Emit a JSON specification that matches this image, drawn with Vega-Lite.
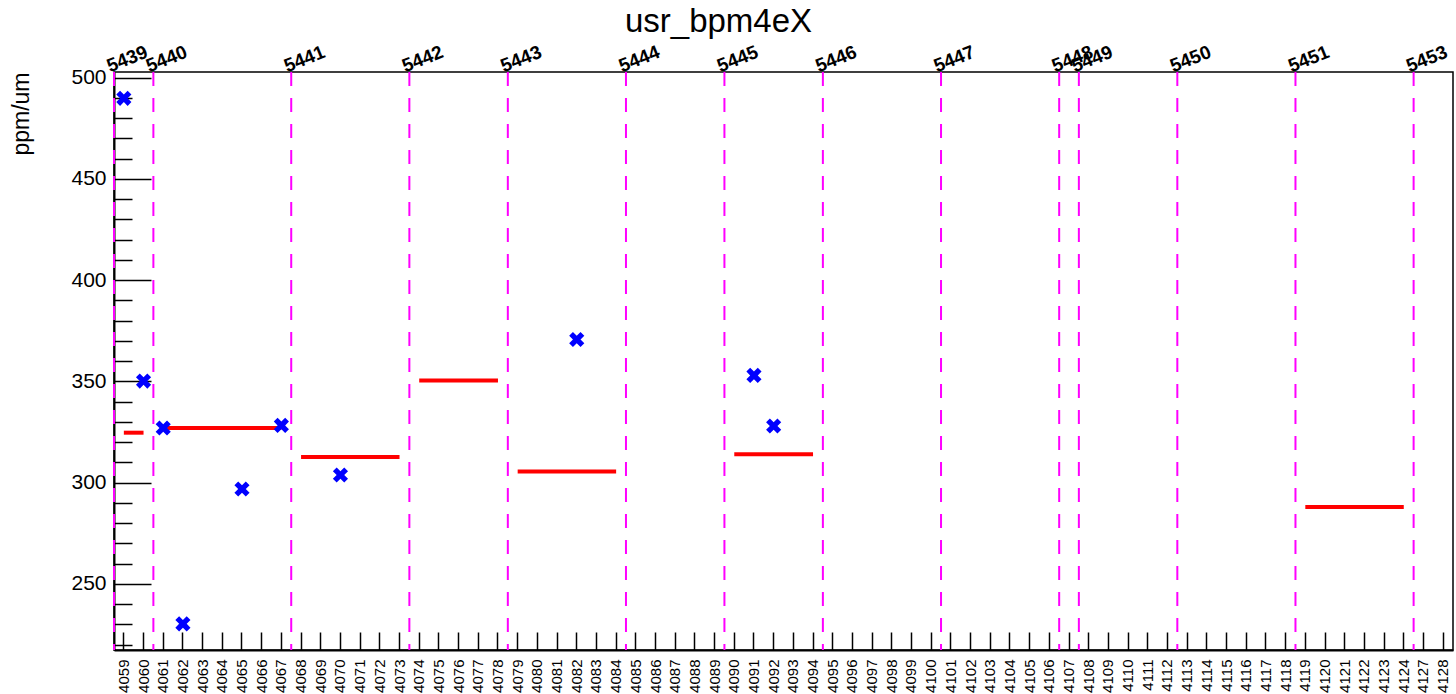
{
  "$schema": "https://vega.github.io/schema/vega-lite/v6.json",
  "autosize": {"type": "none"},
  "padding": {"left": 114, "top": 72, "right": 3, "bottom": 44},
  "width": 1339,
  "height": 578,
  "background": "white",
  "title": {
    "text": "usr_bpm4eX",
    "fontSize": 33,
    "fontWeight": "normal",
    "font": "Liberation Sans",
    "color": "black",
    "anchor": "middle",
    "dx": -65
  },
  "datasets": {
    "points": [
      {"cat": 4059, "value": 489.8},
      {"cat": 4060, "value": 350.2},
      {"cat": 4061, "value": 327.0},
      {"cat": 4062, "value": 230.3},
      {"cat": 4065, "value": 296.9},
      {"cat": 4067, "value": 328.3},
      {"cat": 4070, "value": 303.8},
      {"cat": 4082, "value": 370.7},
      {"cat": 4091, "value": 353.0},
      {"cat": 4092, "value": 328.0}
    ],
    "runs": [
      {"run": "5439", "first": 4059, "start": 4059, "end": 4060, "mean": 324.7},
      {"run": "5440", "first": 4061, "start": 4061, "end": 4067, "mean": 327.0},
      {"run": "5441", "first": 4068, "start": 4068, "end": 4073, "mean": 312.7},
      {"run": "5442", "first": 4074, "start": 4074, "end": 4078, "mean": 350.5},
      {"run": "5443", "first": 4079, "start": 4079, "end": 4084, "mean": 305.5},
      {"run": "5444", "first": 4085, "start": 4085, "end": 4089, "mean": null},
      {"run": "5445", "first": 4090, "start": 4090, "end": 4094, "mean": 314.0},
      {"run": "5446", "first": 4095, "start": 4095, "end": 4100, "mean": null},
      {"run": "5447", "first": 4101, "start": 4101, "end": 4106, "mean": null},
      {"run": "5448", "first": 4107, "start": 4107, "end": 4107, "mean": null},
      {"run": "5449", "first": 4108, "start": 4108, "end": 4112, "mean": null},
      {"run": "5450", "first": 4113, "start": 4113, "end": 4118, "mean": null},
      {"run": "5451", "first": 4119, "start": 4119, "end": 4124, "mean": 288.0},
      {"run": "5453", "first": 4127, "start": 4127, "end": 4128, "mean": null}
    ]
  },
  "layer": [
    {
      "data": {"name": "runs"},
      "mark": {"type": "rule", "color": "#ff00ff", "strokeWidth": 2, "strokeDash": [14, 12]},
      "encoding": {
        "x": {"field": "first", "type": "ordinal", "bandPosition": 0}
      }
    },
    {
      "data": {"name": "runs"},
      "transform": [{"filter": "datum.mean != null"}],
      "mark": {"type": "rule", "color": "#ff0000", "strokeWidth": 4},
      "encoding": {
        "x": {"field": "start", "type": "ordinal"},
        "x2": {"field": "end"},
        "y": {"field": "mean", "type": "quantitative"}
      }
    },
    {
      "data": {"name": "points"},
      "mark": {
        "type": "point",
        "filled": true,
        "color": "#0000ff",
        "opacity": 1,
        "size": 230,
        "shape": "M-1,-0.5L-0.5,-1L0,-0.5L0.5,-1L1,-0.5L0.5,0L1,0.5L0.5,1L0,0.5L-0.5,1L-1,0.5L-0.5,0Z"
      },
      "encoding": {
        "x": {
          "field": "cat",
          "type": "ordinal",
          "title": null,
          "scale": {
            "type": "band",
            "paddingInner": 0,
            "paddingOuter": 0,
            "domain": [4059, 4060, 4061, 4062, 4063, 4064, 4065, 4066, 4067, 4068, 4069, 4070, 4071, 4072, 4073, 4074, 4075, 4076, 4077, 4078, 4079, 4080, 4081, 4082, 4083, 4084, 4085, 4086, 4087, 4088, 4089, 4090, 4091, 4092, 4093, 4094, 4095, 4096, 4097, 4098, 4099, 4100, 4101, 4102, 4103, 4104, 4105, 4106, 4107, 4108, 4109, 4110, 4111, 4112, 4113, 4114, 4115, 4116, 4117, 4118, 4119, 4120, 4121, 4122, 4123, 4124, 4127, 4128]
          },
          "axis": {
            "labelAngle": -90,
            "labelFontSize": 15,
            "labelPadding": 27,
            "labelOverlap": false,
            "tickSize": -18,
            "tickWidth": 1.5,
            "tickColor": "black",
            "domainColor": "black",
            "domainWidth": 2,
            "labelColor": "black"
          }
        },
        "y": {
          "field": "value",
          "type": "quantitative",
          "title": "ppm/um",
          "scale": {"domain": [217.4, 502.8], "nice": false, "zero": false},
          "axis": {
            "values": [220, 230, 240, 250, 260, 270, 280, 290, 300, 310, 320, 330, 340, 350, 360, 370, 380, 390, 400, 410, 420, 430, 440, 450, 460, 470, 480, 490, 500],
            "tickCount": 100,
            "labelOverlap": false,
            "labelExpr": "datum.value % 50 === 0 ? datum.label : ''",
            "tickSize": {"condition": {"test": "datum.value % 50 === 0", "value": -37}, "value": -18},
            "tickWidth": 1.5,
            "tickColor": "black",
            "domainColor": "black",
            "domainWidth": 2,
            "labelFontSize": 21,
            "labelColor": "black",
            "labelPadding": 45,
            "grid": false,
            "titleFontSize": 23,
            "titleFontWeight": "normal",
            "titleColor": "black",
            "titleAngle": -90,
            "titleAlign": "right",
            "titleBaseline": "alphabetic",
            "titleX": -86,
            "titleY": 0
          }
        }
      }
    },
    {
      "data": {"name": "runs"},
      "mark": {
        "type": "text",
        "font": "Liberation Sans",
        "fontWeight": "bold",
        "fontSize": 19,
        "angle": -22,
        "align": "left",
        "baseline": "alphabetic",
        "dx": -4,
        "dy": -1,
        "color": "black"
      },
      "encoding": {
        "x": {"field": "first", "type": "ordinal", "bandPosition": 0},
        "y": {"datum": 502.8, "type": "quantitative"},
        "text": {"field": "run"}
      }
    }
  ],
  "config": {
    "font": "Liberation Sans",
    "view": {"stroke": "black", "strokeWidth": 1.5},
    "axis": {"labelFont": "Liberation Sans", "titleFont": "Liberation Sans"}
  }
}
